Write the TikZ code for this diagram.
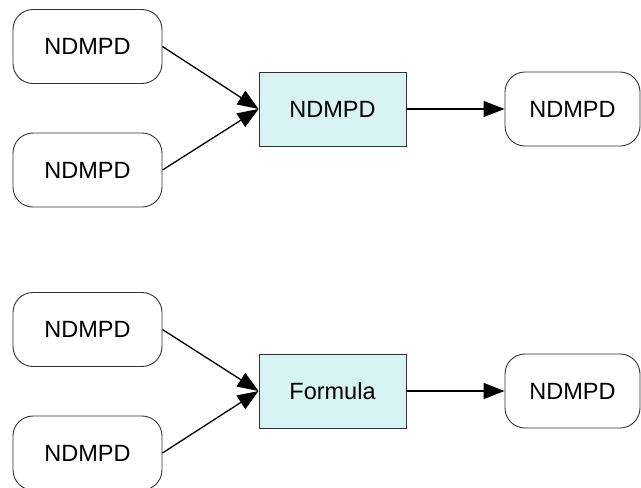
\documentclass[tikz,border=0pt]{standalone}
\usepackage{fontspec}
\setmainfont{Liberation Sans}
\usetikzlibrary{arrows.meta}
\definecolor{opfill}{RGB}{216,243,243}
\definecolor{edge}{RGB}{50,50,50}
\begin{document}
\begin{tikzpicture}[x=1pt,y=-1pt,
  font=\fontsize{23.5}{26}\selectfont,
  term/.style={draw=edge, line width=0.9pt, rounded corners=20pt,
    minimum width=149pt, minimum height=74pt, inner sep=0pt},
  op/.style={draw=edge, line width=0.9pt, fill=opfill,
    minimum width=147pt, minimum height=74pt, inner sep=0pt},
  link/.style={line width=1.3pt, -{Triangle[length=21pt,width=16pt]}}]
\useasboundingbox (0,0) rectangle (641,488);
% upper group
\node[term] (a1) at (87.5,46.5) {NDMPD};
\node[term] (a2) at (87.5,170) {NDMPD};
\node[op]   (am) at (332.5,109) {NDMPD};
\node[term, minimum width=135pt] (ar) at (572.5,109) {NDMPD};
\draw[link] (a1.east) -- (am.west);
\draw[link] (a2.east) -- (am.west);
\draw[link] (am.east) -- (ar.west);
% lower group
\node[term] (b1) at (87.5,329.5) {NDMPD};
\node[term] (b2) at (87.5,453) {NDMPD};
\node[op]   (bm) at (332.5,391) {Formula};
\node[term, minimum width=135pt] (br) at (572.5,391) {NDMPD};
\draw[link] (b1.east) -- (bm.west);
\draw[link] (b2.east) -- (bm.west);
\draw[link] (bm.east) -- (br.west);
\end{tikzpicture}
\end{document}
